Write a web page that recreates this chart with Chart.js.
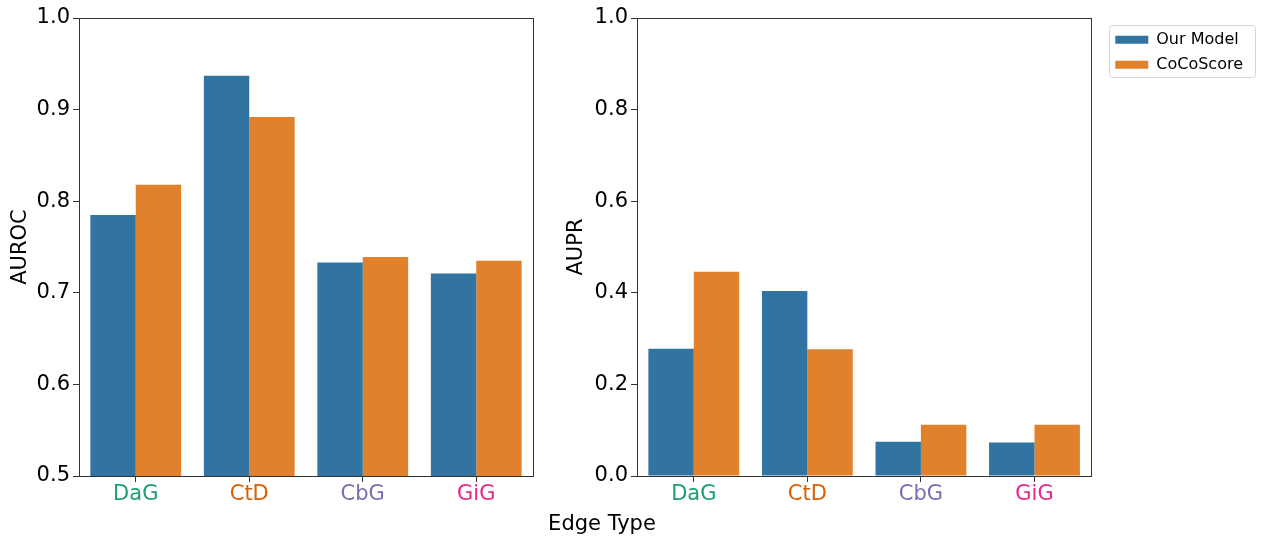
<!DOCTYPE html>
<html>
<head>
<meta charset="utf-8">
<script src="https://cdn.jsdelivr.net/npm/chart.js@4"></script>
<style>
  body { margin: 0; background: #fff; }
  #wrap { position: relative; width: 1261px; height: 540px; font-family: 'DejaVu Sans', sans-serif; }
  canvas { position: absolute; top: 0; }
  #left { left: 0; }
  #right { left: 556px; }
  #xTitle { position: absolute; left: 0; width: 1204px; top: 511px; text-align: center; font-size: 21px; line-height: 25px; color: #000; }
</style>
</head>
<body>
<div id="wrap">
  <canvas id="left" width="545" height="540"></canvas>
  <canvas id="right" width="705" height="540"></canvas>
  <div id="xTitle">Edge Type</div>
</div>
<script>
const categories = ['DaG', 'CtD', 'CbG', 'GiG']
const categoryColors = ['#1b9e77', '#d95f02', '#7570b3', '#e7298a']
const seriesNames = ['Our Model', 'CoCoScore']
const seriesColors = ['#3274a1', '#e1812c']

const aurocOurModel = [0.785, 0.937, 0.733, 0.721]
const aurocCoCoScore = [0.818, 0.892, 0.739, 0.735]
const auprOurModel = [0.278, 0.404, 0.075, 0.073]
const auprCoCoScore = [0.446, 0.277, 0.112, 0.112]

const aurocRange = { min: 0.5, max: 1.0, step: 0.1 }
const auprRange = { min: 0, max: 1.0, step: 0.2 }

Chart.defaults.font.family = "'DejaVu Sans', sans-serif"
Chart.defaults.color = '#000'
Chart.defaults.animation = false

// matplotlib style box round the plot area
const frame = {
    id: 'frame',
    afterDatasetsDraw: chart => {
        const { ctx, chartArea: a } = chart
        ctx.save()
        ctx.strokeStyle = '#333'
        ctx.lineWidth = 1
        ctx.strokeRect(Math.round(a.left) + 0.5, Math.round(a.top) + 0.5,
            Math.round(a.right - a.left), Math.round(a.bottom - a.top))
        ctx.restore()
    }
}

const legendBox = {
    id: 'legendBox',
    afterDraw: chart => {
        if (!chart.options.plugins.legend.display) return
        const hb = chart.legend.legendHitBoxes
        if (!hb || !hb.length) return
        const { ctx } = chart
        const x0 = Math.round(hb[0].left - 6)
        const y0 = Math.round(hb[0].top - 7)
        const x1 = Math.round(Math.max(...hb.map(h => h.left + h.width)) + 12)
        const last = hb[hb.length - 1]
        const y1 = Math.round(last.top + last.height + 4)
        ctx.save()
        ctx.strokeStyle = '#d6d6d6'
        ctx.lineWidth = 1
        ctx.beginPath()
        ctx.roundRect(x0 + 0.5, y0 + 0.5, x1 - x0, y1 - y0, 3)
        ctx.stroke()
        ctx.restore()
    }
}

const makeChart = (id, ours, coco, range, yLabel, yWidth, withLegend) => {
    const ctx = document.querySelector('#' + id).getContext('2d')
    const scales = {
        x: {
            type: 'category',
            offset: true,
            border: { display: false },
            grid: { drawOnChartArea: false, offset: false, tickLength: 6, color: '#333' },
            ticks: {
                font: { size: 21 },
                padding: 0,
                color: c => categoryColors[c.index]
            },
            afterFit: s => { s.height = 64 }
        },
        y: {
            min: range.min,
            max: range.max,
            border: { display: false },
            grid: { drawOnChartArea: false, tickLength: 6, color: '#333' },
            ticks: {
                stepSize: range.step,
                font: { size: 21 },
                padding: 3,
                callback: v => v.toFixed(1)
            },
            title: {
                display: true,
                text: yLabel,
                font: { size: 21 },
                padding: { top: 8, bottom: 0 }
            },
            afterFit: s => { s.width = yWidth }
        }
    }
    if (withLegend) {
        // empty axis only to leave a gap between the plot and the legend
        scales.y2 = {
            type: 'linear',
            position: 'right',
            border: { display: false },
            grid: { display: false },
            ticks: { display: false },
            afterFit: s => { s.width = 15 }
        }
    }
    return new Chart(ctx, {
        type: 'bar',
        data: {
            labels: categories,
            datasets: [{
                label: seriesNames[0],
                data: ours,
                backgroundColor: seriesColors[0],
                borderWidth: 0
            }, {
                label: seriesNames[1],
                data: coco,
                backgroundColor: seriesColors[1],
                borderWidth: 0
            }]
        },
        options: {
            responsive: false,
            devicePixelRatio: 1,
            categoryPercentage: 0.8,
            barPercentage: 1.0,
            layout: { padding: { top: 18, bottom: 0, left: 0, right: withLegend ? 8 : 12 } },
            scales,
            plugins: {
                legend: {
                    display: withLegend,
                    position: 'right',
                    align: 'start',
                    maxWidth: 220,
                    title: { display: true, text: ' ', font: { size: 4 }, padding: 0 },
                    labels: {
                        boxWidth: 33,
                        boxHeight: 8,
                        padding: 9,
                        font: { size: 16 },
                        color: '#000'
                    }
                },
                tooltip: { enabled: false }
            }
        },
        plugins: [frame, legendBox]
    })
}

makeChart('left', aurocOurModel, aurocCoCoScore, aurocRange, 'AUROC', 79, false)
makeChart('right', auprOurModel, auprCoCoScore, auprRange, 'AUPR', 81, true)
</script>
</body>
</html>
